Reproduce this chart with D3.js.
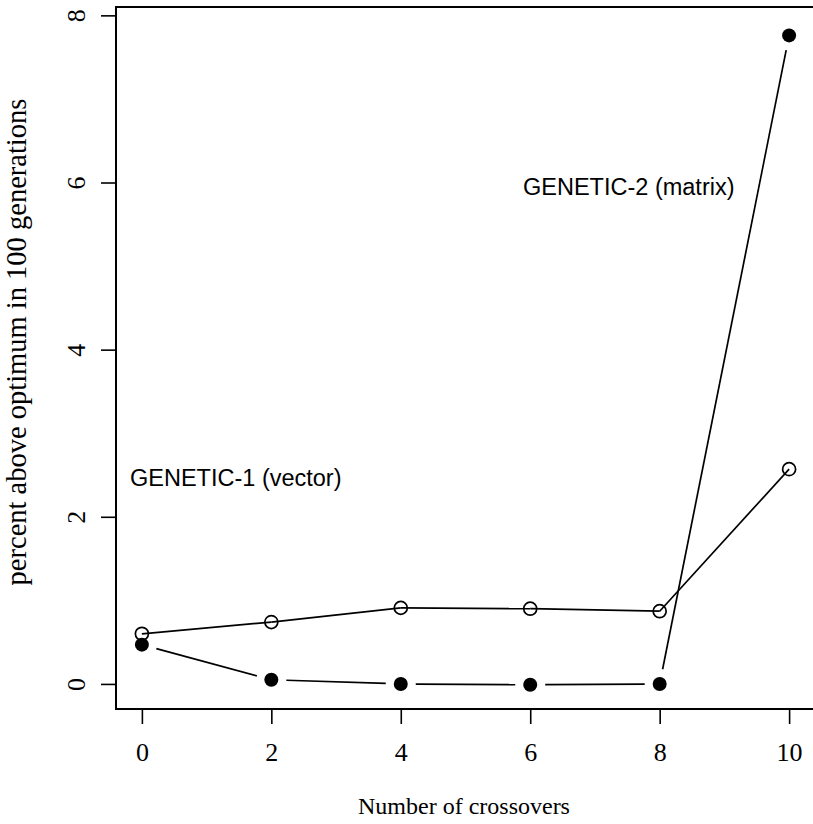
<!DOCTYPE html>
<html>
<head>
<meta charset="utf-8">
<script src="https://cdn.jsdelivr.net/npm/d3@7"></script>
<style>
  body { margin: 0; background: #fff; }
  svg text { fill: #000; }
</style>
</head>
<body>
<div id="chart"></div>
<script>
var width = 813,
    height = 824;

// data
var crossovers = [0, 2, 4, 6, 8, 10];
var vectorPct = [0.60, 0.74, 0.91, 0.90, 0.87, 2.57];   // open circles
var matrixPct = [0.47, 0.05, 0.00, -0.01, 0.00, 7.76];  // filled circles
var xTicks = [0, 2, 4, 6, 8, 10];
var yTicks = [0, 2, 4, 6, 8];
var labels = [
    {text: "GENETIC-2 (matrix)", x: 523, y: 195},
    {text: "GENETIC-1 (vector)", x: 130, y: 486}
];

var serif = "'Liberation Serif', 'Times New Roman', serif",
    sans = "'Liberation Sans', Arial, sans-serif";

var box = {left: 116, right: 815, top: 7, bottom: 709};

var x = d3.scaleLinear().domain([-0.4, 10.4]).range([box.left, box.right]);
var y = d3.scaleLinear().domain([-0.3, 8.1]).range([box.bottom, box.top]);

var svg = d3.select("#chart").append("svg")
    .attr("width", width)
    .attr("height", height);

// frame
svg.append("rect")
    .attr("x", box.left)
    .attr("y", box.top)
    .attr("width", box.right - box.left)
    .attr("height", box.bottom - box.top)
    .style("fill", "none")
    .style("stroke", "#000")
    .style("stroke-width", 2);

// x axis
var xAxis = svg.append("g")
    .attr("transform", "translate(0," + box.bottom + ")")
    .call(d3.axisBottom(x).tickValues(xTicks).tickSize(15).tickPadding(19));
xAxis.select(".domain").remove();
xAxis.selectAll("line").style("stroke-width", 1.6);
xAxis.selectAll("text")
    .attr("font-family", serif)
    .attr("font-size", "26px");

// y axis, labels turned like R does
var yAxis = svg.append("g")
    .attr("transform", "translate(" + box.left + ",0)")
    .call(d3.axisLeft(y).tickValues(yTicks).tickSize(15));
yAxis.select(".domain").remove();
yAxis.selectAll("line").style("stroke-width", 1.6);
yAxis.selectAll("text")
    .attr("font-family", serif)
    .attr("font-size", "26px")
    .attr("text-anchor", "middle")
    .attr("dy", null)
    .attr("x", null)
    .attr("transform", "translate(-40,0) rotate(-90)")
    .attr("y", 0)
    .attr("dominant-baseline", "central");

// axis titles
svg.append("text")
    .attr("x", 464)
    .attr("y", 814)
    .attr("text-anchor", "middle")
    .attr("font-family", serif)
    .attr("font-size", "24px")
    .text("Number of crossovers");

svg.append("text")
    .attr("transform", "translate(26," + 342 + ") rotate(-90)")
    .attr("text-anchor", "middle")
    .attr("font-family", serif)
    .attr("font-size", "28.5px")
    .text("percent above optimum in 100 generations");

// R type="b": segments stop short of the points
function gappedSegments(vals, gap) {
    var segs = [];
    for (var i = 0; i < vals.length - 1; i++) {
        var x0 = x(crossovers[i]), y0 = y(vals[i]),
            x1 = x(crossovers[i + 1]), y1 = y(vals[i + 1]);
        var dx = x1 - x0, dy = y1 - y0, len = Math.sqrt(dx * dx + dy * dy);
        if (len <= 2 * gap) continue;
        var ux = dx / len, uy = dy / len;
        segs.push([x0 + ux * gap, y0 + uy * gap, x1 - ux * gap, y1 - uy * gap]);
    }
    return segs;
}

function drawSeries(vals, gap, filled) {
    var g = svg.append("g");
    g.selectAll("line")
        .data(gappedSegments(vals, gap))
        .enter().append("line")
        .attr("x1", function (d) { return d[0]; })
        .attr("y1", function (d) { return d[1]; })
        .attr("x2", function (d) { return d[2]; })
        .attr("y2", function (d) { return d[3]; })
        .style("stroke", "#000")
        .style("stroke-width", 1.7);
    g.selectAll("circle")
        .data(vals)
        .enter().append("circle")
        .attr("cx", function (d, i) { return x(crossovers[i]); })
        .attr("cy", function (d) { return y(d); })
        .attr("r", filled ? 7 : 6.5)
        .style("fill", filled ? "#000" : "none")
        .style("stroke", "#000")
        .style("stroke-width", filled ? 0 : 1.7);
}

drawSeries(vectorPct, 0, false);
drawSeries(matrixPct, 15, true);

svg.selectAll(".series-label")
    .data(labels)
    .enter().append("text")
    .attr("class", "series-label")
    .attr("x", function (d) { return d.x; })
    .attr("y", function (d) { return d.y; })
    .attr("font-family", sans)
    .attr("font-size", "23.5px")
    .text(function (d) { return d.text; });
</script>
</body>
</html>
